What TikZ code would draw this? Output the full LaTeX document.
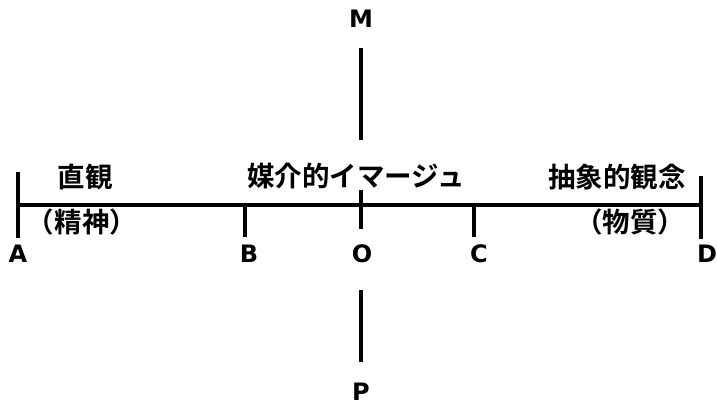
\documentclass[tikz,border=0pt]{standalone}
\usepackage{fontspec}
\newfontfamily\jp{Noto Sans CJK JP Bold}
\newfontfamily\lat{DejaVu Sans}
\begin{document}
\begin{tikzpicture}[x=1pt,y=-1pt,
  axis/.style={line width=3.6pt},
  vaxis/.style={line width=3.2pt},
  jtext/.style={inner sep=0pt,font=\jp\fontsize{27.5}{30}\selectfont},
  letter/.style={inner sep=0pt,font=\lat\bfseries\fontsize{24}{28}\selectfont}]
\useasboundingbox (0,0) rectangle (717,407);
% coordinates
\coordinate (hL) at (18,205);
\coordinate (hR) at (701,205);
\coordinate (aT) at (18,172);
\coordinate (aB) at (18,238);
\coordinate (dT) at (701,176);
\coordinate (dB) at (701,239);
\coordinate (bT) at (245,205);
\coordinate (bB) at (245,237);
\coordinate (cT) at (474,205);
\coordinate (cB) at (474,237);
\coordinate (mT) at (361,48);
\coordinate (mB) at (361,140);
\coordinate (oT) at (361,190);
\coordinate (oB) at (361,229);
\coordinate (pT) at (361,290);
\coordinate (pB) at (361,362);
% lines
\draw[axis] (hL) -- (hR);
\draw[axis] (aT) -- (aB);
\draw[axis] (dT) -- (dB);
\draw[axis] (bT) -- (bB);
\draw[axis] (cT) -- (cB);
\draw[vaxis] (mT) -- (mB);
\draw[vaxis] (oT) -- (oB);
\draw[vaxis] (pT) -- (pB);
% texts
\node[jtext] (t1) at (85,177) {直観};
\node[jtext] (t2) at (82,222) {（精神）};
\node[jtext] (t3) at (356,176) {媒介的イマージュ};
\node[jtext] (t4) at (617,177) {抽象的観念};
\node[jtext] (t5) at (630,222) {（物質）};
% letters
\node[letter] (A) at (18,254) {A};
\node[letter] (B) at (249,254) {B};
\node[letter] (O) at (362,254) {O};
\node[letter] (C) at (479,254) {C};
\node[letter] (D) at (707,254) {D};
\node[letter] (M) at (361,19) {M};
\node[letter] (P) at (361,392) {P};
\end{tikzpicture}
\end{document}
